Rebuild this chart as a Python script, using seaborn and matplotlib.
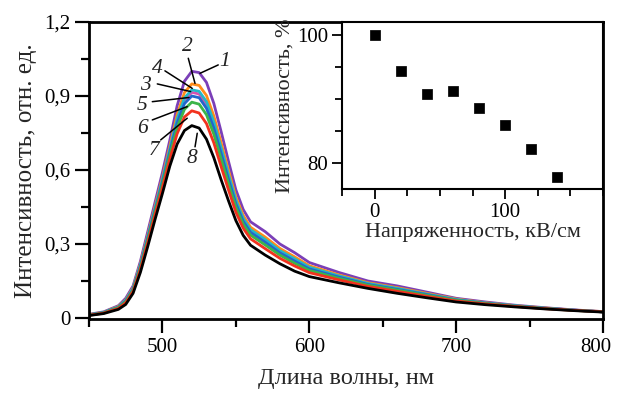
import numpy as np
import pandas as pd
import matplotlib
matplotlib.use("Agg")
import matplotlib.pyplot as plt
import matplotlib.transforms as mtransforms
from matplotlib.ticker import MultipleLocator, FuncFormatter
import seaborn as sns

# spectra (curve number -> intensity, rel. units)
wavelength = [450, 460, 470, 475, 480, 485, 490, 495, 500, 505, 510, 515, 520, 525,
              530, 535, 540, 545, 550, 555, 560, 565, 570, 580, 590, 600, 620, 640,
              660, 680, 700, 720, 740, 760, 780, 800]

curve_1 = [0.015, 0.025, 0.050, 0.080, 0.130, 0.230, 0.350, 0.470, 0.590, 0.720, 0.860, 0.960,
           1.000, 0.995, 0.955, 0.870, 0.755, 0.635, 0.520, 0.440, 0.390, 0.370, 0.350, 0.300,
           0.265, 0.225, 0.185, 0.150, 0.130, 0.105, 0.080, 0.065, 0.052, 0.042, 0.033, 0.026]
curve_2 = [0.014, 0.023, 0.047, 0.074, 0.123, 0.220, 0.336, 0.454, 0.570, 0.696, 0.824, 0.914,
           0.949, 0.943, 0.902, 0.819, 0.710, 0.598, 0.491, 0.416, 0.368, 0.348, 0.328, 0.282,
           0.248, 0.212, 0.175, 0.143, 0.123, 0.100, 0.077, 0.062, 0.050, 0.041, 0.032, 0.026]
curve_3 = [0.013, 0.022, 0.044, 0.070, 0.118, 0.213, 0.327, 0.443, 0.557, 0.680, 0.800, 0.883,
           0.915, 0.908, 0.866, 0.785, 0.680, 0.573, 0.472, 0.400, 0.353, 0.333, 0.313, 0.269,
           0.236, 0.203, 0.169, 0.138, 0.118, 0.096, 0.074, 0.061, 0.049, 0.040, 0.032, 0.025]
curve_4 = [0.013, 0.023, 0.045, 0.072, 0.120, 0.215, 0.330, 0.446, 0.561, 0.684, 0.807, 0.892,
           0.925, 0.919, 0.877, 0.795, 0.689, 0.581, 0.478, 0.404, 0.358, 0.338, 0.318, 0.273,
           0.240, 0.206, 0.171, 0.140, 0.120, 0.097, 0.075, 0.061, 0.050, 0.040, 0.032, 0.025]
curve_5 = [0.013, 0.022, 0.043, 0.069, 0.116, 0.210, 0.323, 0.438, 0.551, 0.672, 0.790, 0.869,
           0.900, 0.893, 0.850, 0.770, 0.666, 0.562, 0.463, 0.392, 0.347, 0.327, 0.307, 0.264,
           0.231, 0.199, 0.166, 0.136, 0.116, 0.095, 0.073, 0.060, 0.049, 0.040, 0.032, 0.025]
curve_6 = [0.012, 0.021, 0.042, 0.066, 0.113, 0.204, 0.316, 0.430, 0.542, 0.660, 0.772, 0.846,
           0.875, 0.867, 0.824, 0.745, 0.644, 0.544, 0.449, 0.380, 0.336, 0.316, 0.296, 0.255,
           0.222, 0.193, 0.161, 0.133, 0.113, 0.092, 0.072, 0.059, 0.048, 0.039, 0.031, 0.025]
curve_7 = [0.011, 0.020, 0.039, 0.062, 0.108, 0.197, 0.306, 0.419, 0.528, 0.644, 0.747, 0.815,
           0.840, 0.831, 0.788, 0.710, 0.613, 0.519, 0.429, 0.364, 0.321, 0.301, 0.281, 0.242,
           0.211, 0.184, 0.155, 0.128, 0.108, 0.088, 0.069, 0.057, 0.047, 0.038, 0.031, 0.025]
curve_8 = [0.010, 0.018, 0.035, 0.055, 0.100, 0.185, 0.290, 0.400, 0.505, 0.615, 0.705, 0.760,
           0.780, 0.770, 0.725, 0.650, 0.560, 0.475, 0.395, 0.335, 0.295, 0.275, 0.255, 0.220,
           0.190, 0.168, 0.143, 0.120, 0.100, 0.082, 0.065, 0.054, 0.045, 0.037, 0.030, 0.024]

curve_names = ["1", "2", "3", "4", "5", "6", "7", "8"]
curve_colors = ["#7b3fb8", "#ff8c1a", "#d84fb0", "#22b8c8", "#2266cc", "#3cb54a", "#f2321e", "#000000"]

# inset: peak intensity vs field strength
field = [0, 20, 40, 60, 80, 100, 120, 140]
peak_percent = [100.0, 94.3, 90.8, 91.3, 88.6, 85.9, 82.2, 77.8]

sns.set_theme(style="ticks")
plt.rcParams["font.family"] = ["Liberation Serif", "DejaVu Serif"]
plt.rcParams["axes.edgecolor"] = "black"
plt.rcParams["xtick.color"] = "black"
plt.rcParams["ytick.color"] = "black"
plt.rcParams["text.color"] = "#222222"

curves = [curve_1, curve_2, curve_3, curve_4, curve_5, curve_6, curve_7, curve_8]
df = pd.DataFrame({
    "wl": wavelength * len(curves),
    "I": sum(curves, []),
    "curve": np.repeat(curve_names, len(wavelength)),
})

fig = plt.figure(figsize=(6.17, 3.96), dpi=100)
ax = fig.add_axes([89 / 617, 1 - 319 / 396, 514 / 617, 297 / 396])

sns.lineplot(data=df, x="wl", y="I", hue="curve", hue_order=curve_names,
             palette=dict(zip(curve_names, curve_colors)), legend=False,
             linewidth=2.0, ax=ax)

ax.set_xlim(450, 800)
ax.set_ylim(-0.004, 1.2)
ax.xaxis.set_major_locator(MultipleLocator(100))
ax.xaxis.set_minor_locator(MultipleLocator(50))
ax.yaxis.set_major_locator(MultipleLocator(0.3))
ax.yaxis.set_minor_locator(MultipleLocator(0.15))
ax.yaxis.set_major_formatter(FuncFormatter(lambda v, _: ("%g" % round(v, 1)).replace(".", ",")))
ax.tick_params(which="major", length=10, width=1.6, labelsize=15, direction="out")
ax.tick_params(which="minor", length=5.5, width=1.6, direction="out")
for s in ax.spines.values():
    s.set_linewidth(2)
ax.set_xlabel("Длина волны, нм", fontsize=17.5, labelpad=8)
ax.set_ylabel("Интенсивность, отн. ед.", fontsize=18, labelpad=5)

# curve numbers with leader lines
labels = [
    ("1", (542.5, 1.04), (538.0, 1.026), (525.6, 0.992)),
    ("2", (517.0, 1.10), (517.6, 1.053), (522.2, 0.951)),
    ("4", (496.5, 1.012), (501.7, 1.002), (520.3, 0.931)),
    ("3", (488.6, 0.944), (496.5, 0.949), (519.2, 0.918)),
    ("5", (486.3, 0.863), (493.1, 0.877), (518.1, 0.894)),
    ("6", (486.3, 0.769), (493.1, 0.803), (516.9, 0.857)),
    ("7", (494.2, 0.681), (498.8, 0.722), (516.9, 0.810)),
    ("8", (520.3, 0.647), (522.2, 0.694), (523.7, 0.749)),
]
for txt, pos, p0, p1 in labels:
    ax.plot([p0[0], p1[0]], [p0[1], p1[1]], color="black", lw=1.1)
    ax.text(pos[0], pos[1], txt, fontsize=15.5, style="italic", ha="center", va="center")

# inset
ax_in = fig.add_axes([342 / 617, 1 - 189 / 396, 261 / 617, 167 / 396])
sns.scatterplot(x=field, y=peak_percent, marker="s", color="black", s=42,
                edgecolor="black", ax=ax_in)
ax_in.set_xlim(-25, 175)
ax_in.set_ylim(76, 102)
ax_in.xaxis.set_major_locator(MultipleLocator(100))
ax_in.xaxis.set_minor_locator(MultipleLocator(25))
ax_in.yaxis.set_major_locator(MultipleLocator(20))
ax_in.yaxis.set_minor_locator(MultipleLocator(5))
ax_in.tick_params(which="major", length=7, width=1.3, labelsize=15, direction="out", pad=3)
ax_in.tick_params(which="minor", length=5, width=1.3, direction="out")
for s in ax_in.spines.values():
    s.set_linewidth(1.5)
ax_in.set_xlabel("Напряженность, кВ/см", fontsize=16, labelpad=1)
ax_in.set_ylabel("Интенсивность, %", fontsize=16, labelpad=2)

# keep the "800" label inside the canvas: nudge it a few pixels left
fig.canvas.draw()
for tick in ax.xaxis.get_major_ticks():
    if tick.label1.get_text() == "800":
        tick.label1.set_transform(tick.label1.get_transform()
                                  + mtransforms.ScaledTranslation(-7 / 100, 0, fig.dpi_scale_trans))

fig.savefig("out.png", dpi=100)
